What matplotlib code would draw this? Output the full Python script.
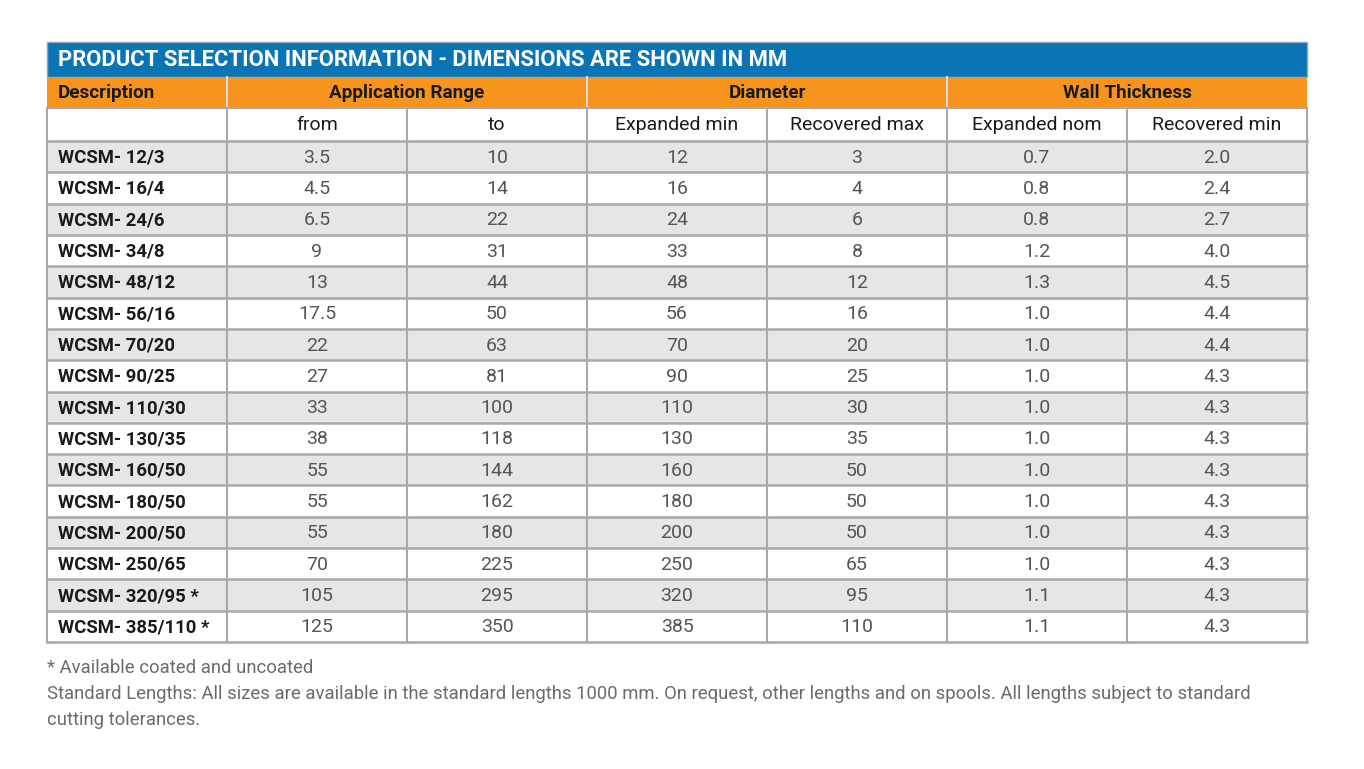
import matplotlib
matplotlib.use("Agg")
import matplotlib.pyplot as plt
from matplotlib.patches import Rectangle

FONT = "Roboto"

title = "PRODUCT SELECTION INFORMATION - DIMENSIONS ARE SHOWN IN MM"
groups = [("Description", 1), ("Application Range", 2), ("Diameter", 2), ("Wall Thickness", 2)]
subheaders = ["", "from", "to", "Expanded min", "Recovered max", "Expanded nom", "Recovered min"]

descriptions = ["WCSM- 12/3", "WCSM- 16/4", "WCSM- 24/6", "WCSM- 34/8", "WCSM- 48/12",
                "WCSM- 56/16", "WCSM- 70/20", "WCSM- 90/25", "WCSM- 110/30", "WCSM- 130/35",
                "WCSM- 160/50", "WCSM- 180/50", "WCSM- 200/50", "WCSM- 250/65",
                "WCSM- 320/95 *", "WCSM- 385/110 *"]
app_from = ["3.5", "4.5", "6.5", "9", "13", "17.5", "22", "27", "33", "38", "55", "55", "55", "70", "105", "125"]
app_to = ["10", "14", "22", "31", "44", "50", "63", "81", "100", "118", "144", "162", "180", "225", "295", "350"]
exp_min = ["12", "16", "24", "33", "48", "56", "70", "90", "110", "130", "160", "180", "200", "250", "320", "385"]
rec_max = ["3", "4", "6", "8", "12", "16", "20", "25", "30", "35", "50", "50", "50", "65", "95", "110"]
wall_exp = ["0.7", "0.8", "0.8", "1.2", "1.3", "1.0", "1.0", "1.0", "1.0", "1.0", "1.0", "1.0", "1.0", "1.0", "1.1", "1.1"]
wall_rec = ["2.0", "2.4", "2.7", "4.0", "4.5", "4.4", "4.4", "4.3", "4.3", "4.3", "4.3", "4.3", "4.3", "4.3", "4.3", "4.3"]
footnotes = ["* Available coated and uncoated",
             "Standard Lengths: All sizes are available in the standard lengths 1000 mm. On request, other lengths and on spools. All lengths subject to standard",
             "cutting tolerances."]

BLUE = "#0b74b5"
ORANGE = "#f7941d"
GREY = "#e6e6e7"
LINE = "#a9a9a9"
DARK = "#1a1a1a"
NUM = "#555555"

W, H = 1364, 769
fig = plt.figure(figsize=(W / 100, H / 100), dpi=100)
ax = fig.add_axes([0, 0, 1, 1])
ax.set_xlim(0, W)
ax.set_ylim(H, 0)
ax.axis("off")

x0, x1 = 47, 1307
ncol = len(subheaders)
cw = (x1 - x0) / ncol
y_title, y_grp, y_sub, y_data = 42, 77, 108, 141
y_end = 642
nrow = len(descriptions)
rh = (y_end - y_data) / nrow

# title bar
ax.add_patch(Rectangle((x0, y_title), x1 - x0, y_grp - y_title, facecolor=BLUE, edgecolor="#8aa7bd", lw=1))
ax.text(x0 + 11, (y_title + y_grp) / 2 + 1, title, color="white", fontsize=15.8, fontweight="bold",
        family=FONT, va="center", ha="left")

# group header
ax.add_patch(Rectangle((x0, y_grp), x1 - x0, y_sub - y_grp, facecolor=ORANGE, edgecolor="none"))
c = 0
for name, span in groups:
    xa = x0 + c * cw
    xb = xa + span * cw
    if c > 0:
        ax.plot([xa, xa], [y_grp, y_sub], color="#d9d9d9", lw=1.5)
    if span == 1:
        ax.text(xa + 11, (y_grp + y_sub) / 2 + 1, name, fontsize=13.6, fontweight="bold", family=FONT,
                color=DARK, va="center", ha="left")
    else:
        ax.text((xa + xb) / 2, (y_grp + y_sub) / 2 + 1, name, fontsize=13.6, fontweight="bold", family=FONT,
                color=DARK, va="center", ha="center")
    c += span

# subheader
for i, s in enumerate(subheaders):
    ax.text(x0 + (i + 0.5) * cw, (y_sub + y_data) / 2 + 1, s, fontsize=14, family=FONT,
            color=DARK, va="center", ha="center")

# data rows
cols = [descriptions, app_from, app_to, exp_min, rec_max, wall_exp, wall_rec]
for r in range(nrow):
    ya = y_data + r * rh
    if r % 2 == 0:
        ax.add_patch(Rectangle((x0, ya), x1 - x0, rh, facecolor=GREY, edgecolor="none"))
    yc = ya + rh / 2 + 1
    for i, col in enumerate(cols):
        if i == 0:
            ax.text(x0 + 11, yc, col[r], fontsize=13.3, fontweight="bold", family=FONT, color=DARK,
                    va="center", ha="left")
        else:
            ax.text(x0 + (i + 0.5) * cw, yc, col[r], fontsize=14, family=FONT, color=NUM,
                    va="center", ha="center")

# grid lines
for k in range(nrow + 1):
    y = y_data + k * rh
    ax.plot([x0, x1], [y, y], color=LINE, lw=1.8)
ax.plot([x0, x1], [y_sub, y_sub], color=LINE, lw=1.5)
for i in range(ncol + 1):
    x = x0 + i * cw
    ax.plot([x, x], [y_sub, y_end], color=LINE, lw=1.5)

# footnotes
for j, t in enumerate(footnotes):
    ax.text(x0, 668 + j * 26, t, fontsize=13.3, family=FONT, color="#6b6b6b", va="center", ha="left")

fig.savefig("out.png", dpi=100)
